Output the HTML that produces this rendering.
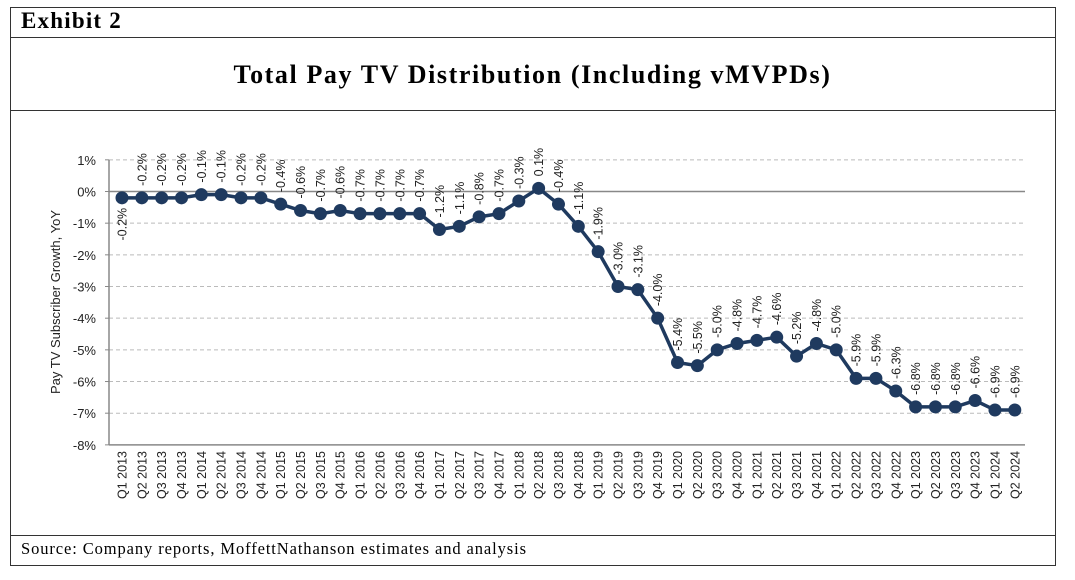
<!DOCTYPE html>
<html><head><meta charset="utf-8"><style>
body{margin:0;background:#fff;width:1075px;height:580px;overflow:hidden;font-family:"Liberation Serif",serif}
</style></head><body>
<div style="position:absolute;left:10px;top:7px;width:1044px;height:557px;border:1px solid #333"></div>
<div style="position:absolute;left:21px;top:8px;font-size:23px;font-weight:bold;letter-spacing:1.2px">Exhibit 2</div>
<div style="position:absolute;left:10px;top:37px;width:1045px;border-top:1px solid #333"></div>
<div style="position:absolute;left:10px;top:60px;width:1045px;text-align:center;font-size:26px;font-weight:bold;letter-spacing:1.6px">Total Pay TV Distribution (Including vMVPDs)</div>
<div style="position:absolute;left:10px;top:110px;width:1045px;border-top:1px solid #333"></div>
<div style="position:absolute;left:10px;top:535px;width:1045px;border-top:1px solid #333"></div>
<div style="position:absolute;left:21px;top:539px;font-size:16.5px;letter-spacing:0.9px">Source: Company reports, MoffettNathanson estimates and analysis</div>
<svg id="c" width="1075" height="580" style="position:absolute;left:0;top:0" font-family="Liberation Sans, sans-serif"></svg>
<script>
const categories=[];
for(let y=2013;y<=2024;y++)for(let q=1;q<=4;q++)if(!(y===2024&&q>2))categories.push('Q'+q+' '+y);
const values=[-0.2,-0.2,-0.2,-0.2,-0.1,-0.1,-0.2,-0.2,-0.4,-0.6,-0.7,-0.6,-0.7,-0.7,-0.7,-0.7,-1.2,-1.1,-0.8,-0.7,-0.3,0.1,-0.4,-1.1,-1.9,-3.0,-3.1,-4.0,-5.4,-5.5,-5.0,-4.8,-4.7,-4.6,-5.2,-4.8,-5.0,-5.9,-5.9,-6.3,-6.8,-6.8,-6.8,-6.6,-6.9,-6.9];
const yTicks=[1,0,-1,-2,-3,-4,-5,-6,-7,-8];
const NS='http://www.w3.org/2000/svg',svg=document.getElementById('c');
const yS=v=>191.5-v*31.67, xS=i=>122+i*19.84;
function mk(t,a){const e=document.createElementNS(NS,t);for(const k in a)e.setAttribute(k,a[k]);svg.appendChild(e);return e;}
yTicks.forEach(t=>{
 if(t!==0&&t!==-8){const g=mk('line',{x1:109,x2:1025,y1:yS(t),y2:yS(t),stroke:'#bbb','stroke-dasharray':'4,3'});
 
 }
 const l=mk('text',{x:96,y:yS(t)+5,'text-anchor':'end','font-size':13,fill:'#222'});l.textContent=t+'%';
 
 
 mk('line',{x1:105,x2:109,y1:yS(t),y2:yS(t),stroke:'#888'});
});
const za=mk('line',{x1:109,x2:1025,y1:yS(0),y2:yS(0),stroke:'#888','stroke-width':1.5});


const xa=mk('line',{x1:109,x2:1025,y1:yS(-8),y2:yS(-8),stroke:'#888','stroke-width':1.5});


const ya=mk('line',{x1:109,x2:109,y1:yS(1),y2:yS(-8),stroke:'#888','stroke-width':1.5});


const yt=mk('text',{transform:'translate(60,302) rotate(-90)','text-anchor':'middle','font-size':13,fill:'#222'});yt.textContent='Pay TV Subscriber Growth, YoY';


const pts=values.map((v,i)=>xS(i)+','+yS(v)).join(' ');
const pl=mk('polyline',{points:pts,fill:'none',stroke:'#1f3a5f','stroke-width':3.5});


values.forEach((v,i)=>{
 const c=mk('circle',{cx:xS(i),cy:yS(v),r:6.5,fill:'#1f3a5f'});
 
 
 const x=xS(i)+4.5, y=yS(v);
 const lab=i===0?mk('text',{transform:`translate(${x},${y+10}) rotate(-90)`,'text-anchor':'end','font-size':12.5,fill:'#222'})
 :mk('text',{transform:`translate(${x},${y-12}) rotate(-90)`,'text-anchor':'start','font-size':12.5,fill:'#222'});
 lab.textContent=v.toFixed(1)+'%';
 
 
 const xl=mk('text',{transform:`translate(${xS(i)+4.5},451) rotate(-90)`,'text-anchor':'end','font-size':12.5,fill:'#222'});
 xl.textContent=categories[i];
 
 
});
</script>
</body></html>
